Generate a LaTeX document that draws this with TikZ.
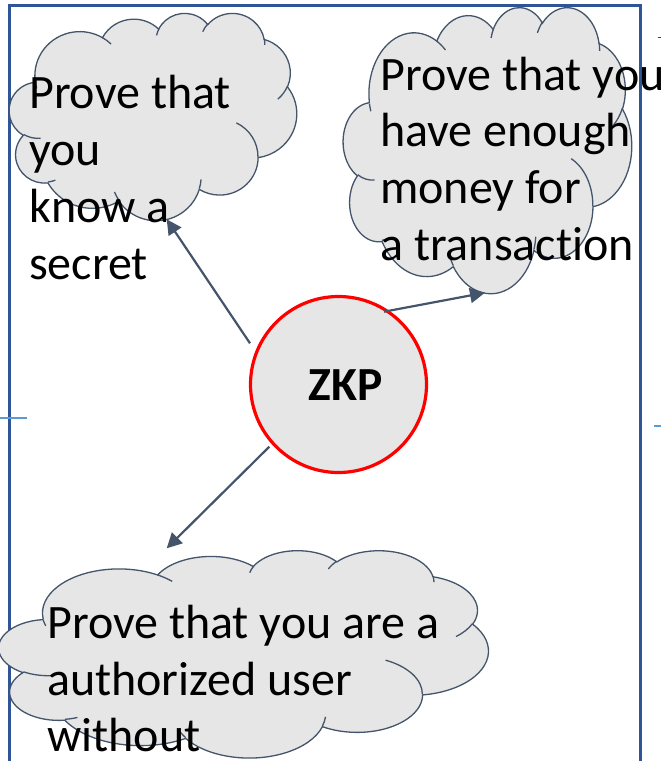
\documentclass[tikz,border=0pt]{standalone}
\usepackage{fontspec}
\setmainfont{Carlito}[Ligatures=NoCommon]
\usetikzlibrary{arrows.meta}
\definecolor{frameblue}{HTML}{2F5597}
\definecolor{tickblue}{HTML}{5B9BD5}
\definecolor{slate}{HTML}{44546A}
\definecolor{cloudfill}{HTML}{E6E6E6}
\definecolor{zkpred}{HTML}{FF0000}

% convert DrawingML (visual) arc angles into parametric TikZ angles
\newcommand\cloudprep[5]{%
  \pgfmathsetmacro\cpS{atan2((#2)*sin(#4),(#3)*cos(#4))}%
  \pgfmathsetmacro\cpE{atan2((#2)*sin((#4)+(#5)),(#3)*cos((#4)+(#5)))}%
  \pgfmathsetmacro\cpD{\cpE-\cpS}%
  \pgfmathsetmacro\cpD{\cpD+360*round(((#5)-\cpD)/360)}%
  \expandafter\xdef\csname CLs#1\endcsname{\cpS}%
  \expandafter\xdef\csname CLd#1\endcsname{\cpD}%
}
\cloudprep{A}{67.53}{91.90}{-190.487}{123.781}
\cloudprep{B}{53.33}{72.67}{-144.102}{89.945}
\cloudprep{C}{43.65}{59.45}{-145.808}{99.723}
\cloudprep{D}{48.57}{65.95}{-130.986}{117.242}
\cloudprep{E}{53.33}{72.73}{-78.709}{109.027}
\cloudprep{F}{67.75}{92.20}{-46.267}{130.269}
\cloudprep{G}{57.85}{78.67}{0.625}{114.033}
\cloudprep{H}{67.52}{92.15}{22.452}{115.173}
\cloudprep{I}{77.20}{105.43}{66.243}{75.711}
\cloudprep{J}{43.60}{59.18}{-274.942}{146.736}
\cloudprep{K}{43.45}{59.45}{-246.829}{152.519}
\cloudprep{a}{43.45}{59.45}{86.742}{26.430}
\cloudprep{b}{43.60}{59.18}{73.611}{11.447}
\cloudprep{c}{67.52}{92.15}{137.624}{14.081}
\cloudprep{d}{67.52}{92.15}{6.453}{15.998}
\cloudprep{e}{57.85}{78.67}{-70.292}{70.917}
\cloudprep{f}{53.33}{72.73}{30.318}{27.752}
\cloudprep{g}{48.57}{65.95}{-13.744}{14.859}
\cloudprep{h}{48.57}{65.95}{-149.181}{18.195}
\cloudprep{i}{43.65}{59.45}{-163.494}{17.686}
\cloudprep{j}{67.53}{91.90}{-66.707}{12.319}
\cloudprep{k}{67.53}{91.90}{156.076}{9.631}

\newcommand\ppcloud[4]{%
  \begin{scope}[shift={(#1,#2)},xscale=#3/432,yscale=#4/432]
    \draw[cloudbody] (39.00,143.70)
      arc[start angle=\CLsA, delta angle=\CLdA, x radius=67.53, y radius=91.90]
      arc[start angle=\CLsB, delta angle=\CLdB, x radius=53.33, y radius=72.67]
      arc[start angle=\CLsC, delta angle=\CLdC, x radius=43.65, y radius=59.45]
      arc[start angle=\CLsD, delta angle=\CLdD, x radius=48.57, y radius=65.95]
      arc[start angle=\CLsE, delta angle=\CLdE, x radius=53.33, y radius=72.73]
      arc[start angle=\CLsF, delta angle=\CLdF, x radius=67.75, y radius=92.20]
      arc[start angle=\CLsG, delta angle=\CLdG, x radius=57.85, y radius=78.67]
      arc[start angle=\CLsH, delta angle=\CLdH, x radius=67.52, y radius=92.15]
      arc[start angle=\CLsI, delta angle=\CLdI, x radius=77.20, y radius=105.43]
      arc[start angle=\CLsJ, delta angle=\CLdJ, x radius=43.60, y radius=59.18]
      arc[start angle=\CLsK, delta angle=\CLdK, x radius=43.45, y radius=59.45]
      -- cycle;
    \draw[cloudinner]
      (46.93,261.77) arc[start angle=\CLsa, delta angle=\CLda, x radius=43.45, y radius=59.45]
      (69.28,348.99) arc[start angle=\CLsb, delta angle=\CLdb, x radius=43.60, y radius=59.18]
      (164.78,390.90) arc[start angle=\CLsc, delta angle=\CLdc, x radius=67.52, y radius=92.15]
      (288.27,347.51) arc[start angle=\CLsd, delta angle=\CLdd, x radius=67.52, y radius=92.15]
      (341.29,229.54) arc[start angle=\CLse, delta angle=\CLde, x radius=57.85, y radius=78.67]
      (417.98,153.54) arc[start angle=\CLsf, delta angle=\CLdf, x radius=53.33, y radius=72.73]
      (383.24,54.26) arc[start angle=\CLsg, delta angle=\CLdg, x radius=48.57, y radius=65.95]
      (290.78,39.52) arc[start angle=\CLsh, delta angle=\CLdh, x radius=48.57, y radius=65.95]
      (221.41,47.20) arc[start angle=\CLsi, delta angle=\CLdi, x radius=43.65, y radius=59.45]
      (140.00,51.92) arc[start angle=\CLsj, delta angle=\CLdj, x radius=67.53, y radius=91.90]
      (41.27,157.89) arc[start angle=\CLsk, delta angle=\CLdk, x radius=67.53, y radius=91.90];
  \end{scope}}

\tikzset{
  cloudbody/.style={draw=slate, fill=cloudfill, line width=1.3pt},
  cloudinner/.style={draw=slate, line width=1.3pt},
  framestyle/.style={draw=frameblue, line width=2.6pt},
  tickstyle/.style={draw=tickblue, line width=2pt},
  arrowstyle/.style={draw=slate, line width=2.2pt, -{Triangle[length=15pt,width=15pt]}},
  bigtext/.style={inner sep=0pt, anchor=base west, font=\fontsize{48}{58}\selectfont, text=black},
  zkpcircle/.style={circle, draw=zkpred, fill=cloudfill, line width=3.2pt, minimum size=176pt, inner sep=0pt},
}

\begin{document}
\begin{tikzpicture}[x=1pt,y=-1pt]
\useasboundingbox (0,0) rectangle (661,761);
% frame
\draw[framestyle] (9.5,900) -- (9.5,5.2) -- (640.5,5.2) -- (640.5,900);
% ticks
\draw[tickstyle] (0,418) -- (27,418);
\draw[tickstyle] (654,426.3) -- (661,426.3);
\draw[draw=black!75, line width=1pt] (657.5,37.7) -- (661,37.7);
% clouds
\ppcloud{9.3}{12.7}{287.4}{207.3}
\ppcloud{343.3}{6.7}{288.4}{286}
\ppcloud{-1}{550}{489.3}{207.3}
% centre circle
\node[zkpcircle] (zkp) at (338.5,384.5) {};
\node[inner sep=0pt, anchor=base, font=\bfseries\fontsize{47.5}{57}\selectfont] (zkplabel) at (345.5,400) {ZKP};
% connectors
\coordinate (a1s) at (250,343.3);
\coordinate (a1e) at (166.7,219.3);
\coordinate (a2s) at (384,311.7);
\coordinate (a2e) at (485,292.7);
\coordinate (a3s) at (269.3,446.7);
\coordinate (a3e) at (166.7,548.3);
\draw[arrowstyle] (a1s) -- (a1e);
\draw[arrowstyle] (a2s) -- (a2e);
\draw[arrowstyle] (a3s) -- (a3e);
% texts
\node[bigtext] (t1a) at (29,108.3) {Prove that};
\node[bigtext] (t1b) at (29,165) {you};
\node[bigtext] (t1c) at (29,222.3) {know a};
\node[bigtext] (t1d) at (29,279) {secret};
\node[bigtext] (t2a) at (380,90) {Prove that you};
\node[bigtext] (t2b) at (380,146.7) {have enough};
\node[bigtext] (t2c) at (380,203.3) {money for};
\node[bigtext] (t2d) at (380,260) {a transaction};
\node[bigtext] (t3a) at (47,638.3) {Prove that you are a};
\node[bigtext] (t3b) at (47,695) {authorized user};
\node[bigtext] (t3c) at (47,751.7) {without};
\end{tikzpicture}
\end{document}
